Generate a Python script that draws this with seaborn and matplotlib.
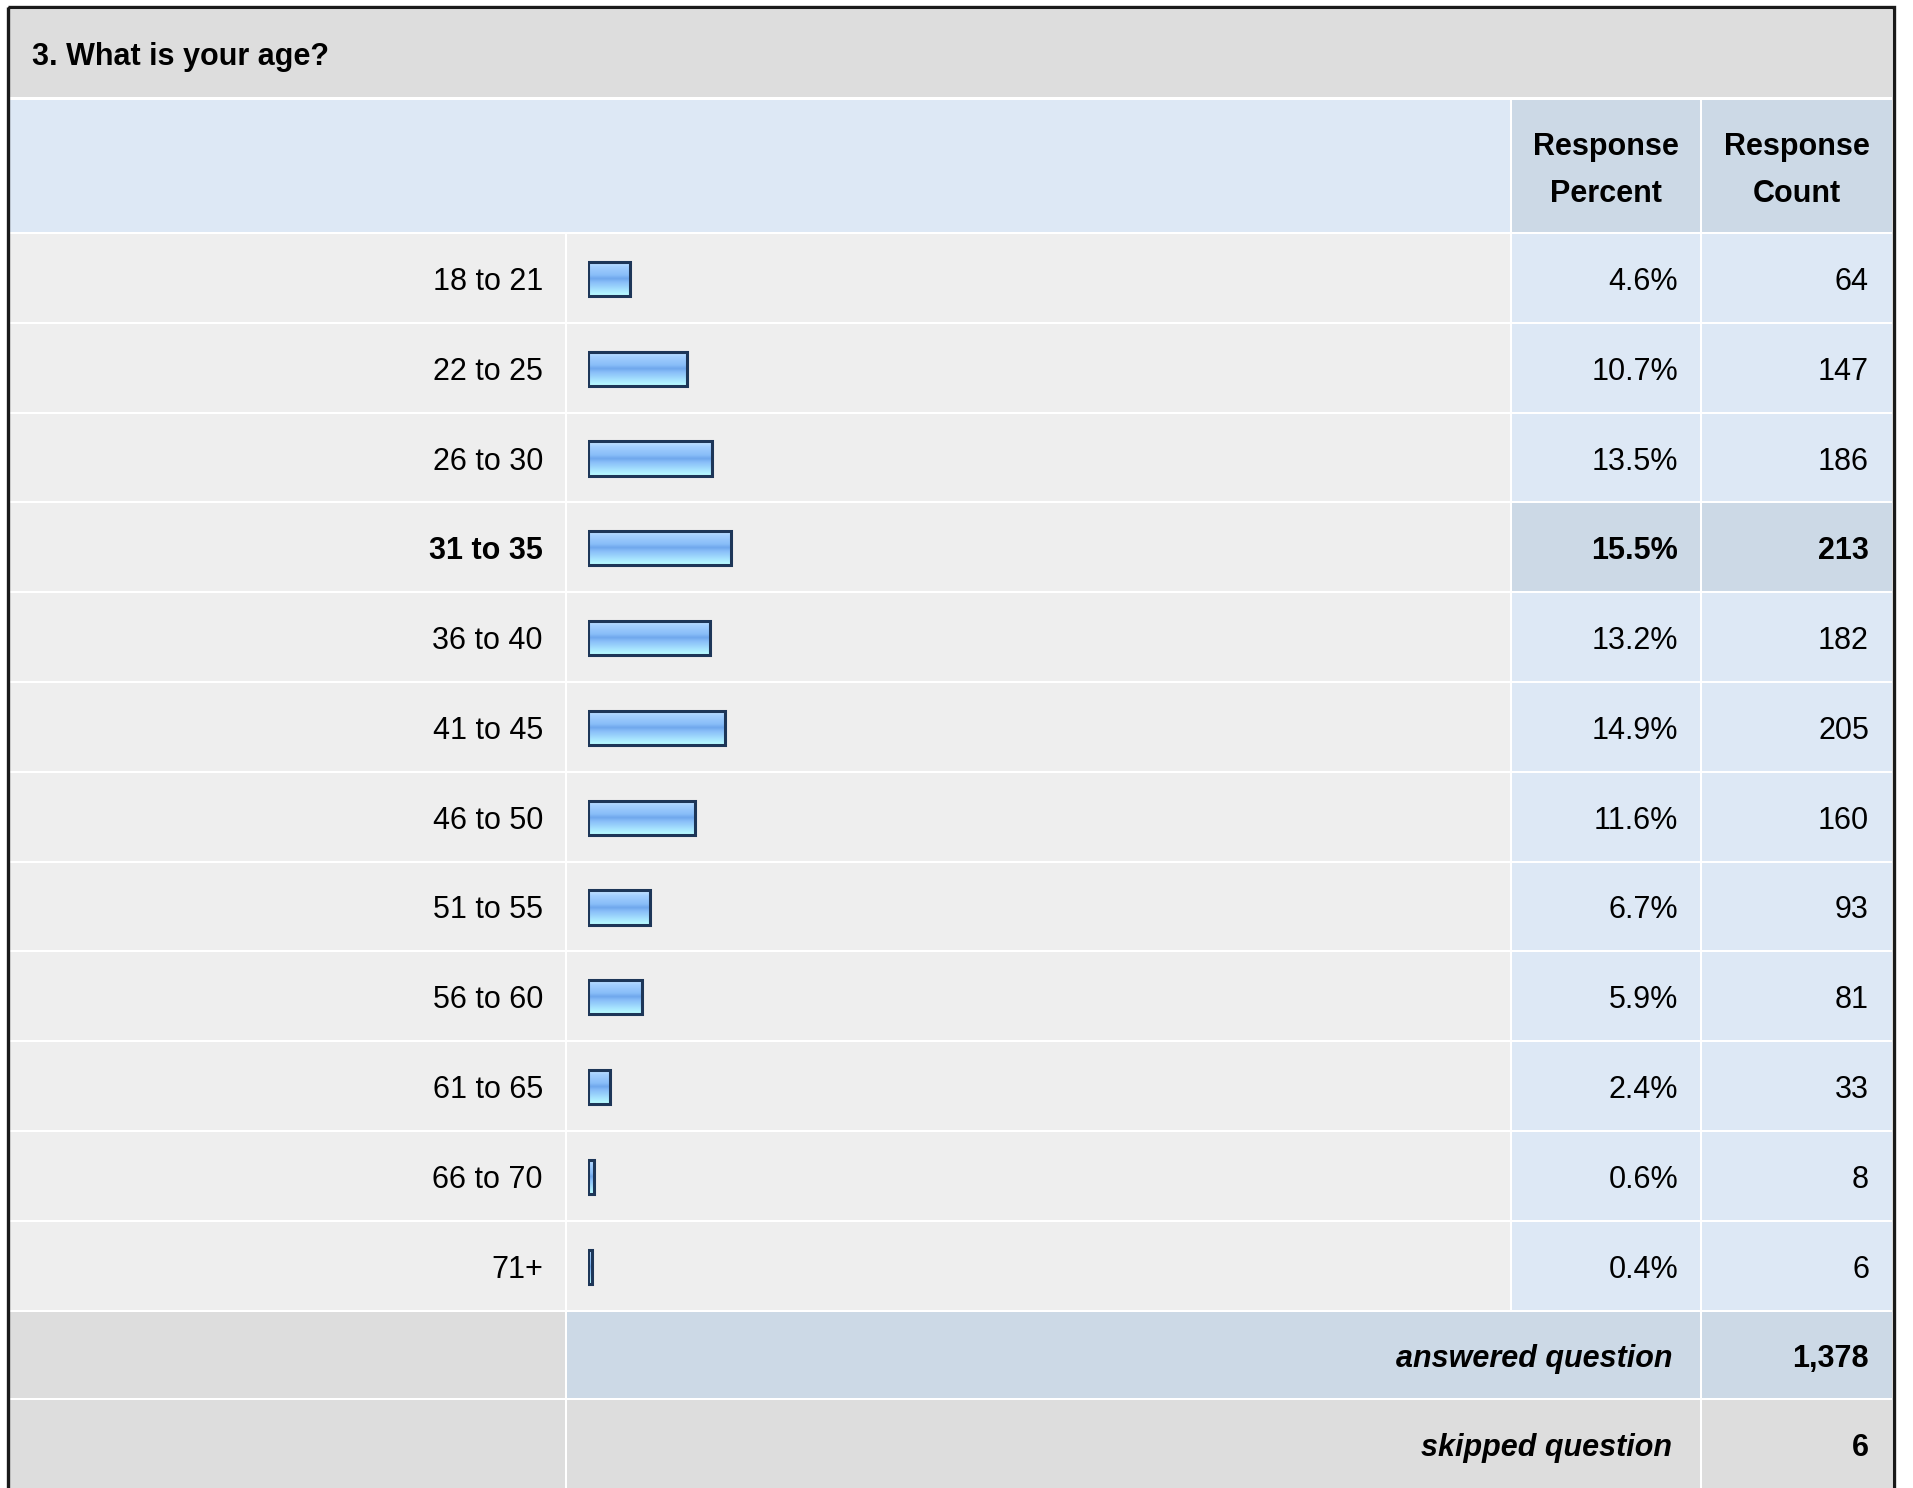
import matplotlib
matplotlib.use("Agg", force=True)
import matplotlib.pyplot as plt
from matplotlib.colors import LinearSegmentedColormap
from matplotlib.patches import Rectangle
import numpy as np
import pandas as pd
import seaborn as sns

QUESTION = "3. What is your age?"
AGE_GROUPS = ["18 to 21", "22 to 25", "26 to 30", "31 to 35", "36 to 40", "41 to 45",
              "46 to 50", "51 to 55", "56 to 60", "61 to 65", "66 to 70", "71+"]
PERCENT = [4.6, 10.7, 13.5, 15.5, 13.2, 14.9, 11.6, 6.7, 5.9, 2.4, 0.6, 0.4]
COUNT = [64, 147, 186, 213, 182, 205, 160, 93, 81, 33, 8, 6]
ANSWERED = 1378
SKIPPED = 6
HIGHLIGHT = "31 to 35"

W, H = 1913, 1488
GREY = "#dddddd"
ROW_BG = "#eeeeee"
LIGHT_BLUE = "#dde8f5"
MID_BLUE = "#ccd9e6"
FONT = ["Liberation Sans", "DejaVu Sans"]
FS = 22


def main() -> None:
    sns.set_style("white")
    plt.rcParams["font.family"] = FONT
    plt.rcParams["text.color"] = "black"

    df = pd.DataFrame({"age": AGE_GROUPS, "percent": PERCENT, "count": COUNT})

    fig = plt.figure(figsize=(W / 100, H / 100), dpi=100)
    bg = fig.add_axes([0, 0, 1, 1])
    bg.set_xlim(0, W)
    bg.set_ylim(H, 0)
    bg.axis("off")

    def cell(x0, x1, y0, y1, color):
        bg.add_patch(Rectangle((x0, y0), x1 - x0, y1 - y0, facecolor=color, edgecolor="none", zorder=1))

    def txt(x, y, s, **kw):
        bg.text(x, y, s, family=FONT, fontsize=FS, color="black", va="center", zorder=3, **kw)

    # column edges
    lab = (10, 565)
    bar = (567, 1510)
    pct = (1512, 1700)
    cnt = (1702, 1892)

    # title + header
    cell(10, 1892, 10, 97, GREY)
    cell(10, 1510, 100, 232, LIGHT_BLUE)
    cell(*pct, 100, 232, MID_BLUE)
    cell(*cnt, 100, 232, MID_BLUE)
    txt(32, 57, QUESTION, fontweight="bold", ha="left")
    for (x0, x1), word in [(pct, "Percent"), (cnt, "Count")]:
        xc = (x0 + x1) / 2
        txt(xc, 147, "Response", fontweight="bold", ha="center")
        txt(xc, 194, word, fontweight="bold", ha="center")

    # answer rows
    top, row_h = 234, 89.8
    n = len(df)
    for i, r in df.iterrows():
        y0 = top + i * row_h
        y1 = y0 + row_h - 2
        hl = r["age"] == HIGHLIGHT
        cell(*lab, y0, y1, ROW_BG)
        cell(*bar, y0, y1, ROW_BG)
        cell(*pct, y0, y1, MID_BLUE if hl else LIGHT_BLUE)
        cell(*cnt, y0, y1, MID_BLUE if hl else LIGHT_BLUE)
        yc = y0 + row_h / 2 + 3
        weight = "bold" if hl else "normal"
        txt(543, yc, r["age"], fontweight=weight, ha="right")
        txt(1678, yc, f"{r['percent']:.1f}%", fontweight=weight, ha="right")
        txt(1869, yc, f"{r['count']}", fontweight=weight, ha="right")

    # summary rows
    y_ans = top + n * row_h
    cell(*lab, y_ans, y_ans + 86, GREY)
    cell(bar[0], pct[1], y_ans, y_ans + 86, MID_BLUE)
    cell(*cnt, y_ans, y_ans + 86, MID_BLUE)
    y_sk = y_ans + 88
    cell(*lab, y_sk, H + 5, GREY)
    cell(bar[0], pct[1], y_sk, H + 5, GREY)
    cell(*cnt, y_sk, H + 5, GREY)
    txt(1672, y_ans + 47, "answered question", fontweight="bold", fontstyle="italic", ha="right")
    txt(1869, y_ans + 47, f"{ANSWERED:,}", fontweight="bold", ha="right")
    txt(1672, y_sk + 48, "skipped question", fontweight="bold", fontstyle="italic", ha="right")
    txt(1869, y_sk + 48, f"{SKIPPED:,}", fontweight="bold", ha="right")

    # outer frame
    bg.add_patch(Rectangle((7.5, 6.5), 1886, 1500, facecolor="none", edgecolor="#1a1a1a", lw=2.4, zorder=4))

    # bar chart over the bar column
    x_left, x_right = 588, 1510
    y_top, y_bot = top, top + n * row_h
    ax = fig.add_axes([x_left / W, 1 - y_bot / H, (x_right - x_left) / W, (y_bot - y_top) / H])
    ax.patch.set_alpha(0)
    sns.barplot(data=df, x="percent", y="age", orient="h", width=0.38, ax=ax,
                color="#8ec0f5", edgecolor="#1d3658", linewidth=2.2, saturation=1)

    cmap = LinearSegmentedColormap.from_list(
        "bar", [(0.0, "#cbe7ff"), (0.15, "#a4d0ff"), (0.4, "#88bdf8"), (0.5, "#6fa7ec"),
                (0.6, "#88bdf8"), (0.85, "#a9e6ff"), (1.0, "#bbffff")])
    grad = np.linspace(0, 1, 64).reshape(-1, 1)
    for p in list(ax.patches):
        x0, y0, w, h = p.get_x(), p.get_y(), p.get_width(), p.get_height()
        im = ax.imshow(grad, cmap=cmap, extent=(x0, x0 + w, y0 + h, y0), origin="upper",
                       aspect="auto", zorder=1.5)
        im.set_clip_path(p)
        p.set_facecolor("none")
        p.set_zorder(2)

    ax.set_xlim(0, 100)
    ax.set_ylim(n - 0.5, -0.5)
    ax.set_xlabel("")
    ax.set_ylabel("")
    ax.set_xticks([])
    ax.set_yticks([])
    sns.despine(ax=ax, left=True, bottom=True)

    fig.savefig("out.png", dpi=100, facecolor="white")


if __name__ == "__main__":
    main()
